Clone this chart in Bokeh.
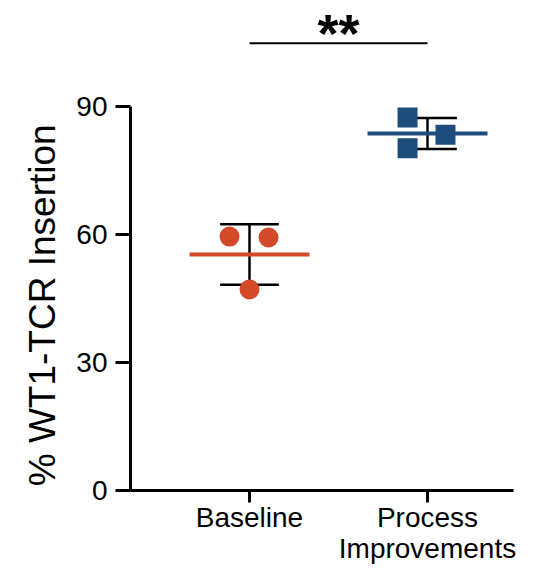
import math
import numpy as np
from bokeh.plotting import figure
from bokeh.models import FixedTicker, Range1d
from bokeh.core.properties import value
from bokeh.embed import file_html
from bokeh.resources import INLINE

# ---- data ----
groups = ["Baseline", "Process\nImprovements"]
baseline_vals = [59.5, 59.3, 47.1]
process_vals = [87.4, 80.2, 83.4]
y_ticks = [0, 30, 60, 90]
y_title = "% WT1-TCR Insertion"
signif_text = "**"

# ---- styling / layout ----
ORANGE = "#D34A2A"
BLUE = "#1E4D7B"
FONT = "Liberation Sans"
jitter_baseline = [-0.112, 0.107, 0.0]
jitter_process = [-0.112, -0.112, 0.101]
mean_half = 0.337
cap_half = 0.165
X_LEFT = 0.3315
X_RIGHT = 2.483

p = figure(width=525, height=565, output_backend="svg", toolbar_location=None,
           x_range=Range1d(-0.3989, 2.5506), y_range=Range1d(-17.58, 114.84),
           min_border=0)
p.outline_line_color = None
p.xgrid.visible = False
p.ygrid.visible = False
p.background_fill_color = "white"
p.border_fill_color = "white"

series = [(1, baseline_vals, jitter_baseline, ORANGE, "circle"),
          (2, process_vals, jitter_process, BLUE, "square")]

for xc, vals, jit, col, marker in series:
    arr = np.array(vals)
    m = arr.mean()
    sd = arr.std(ddof=1)
    p.segment(x0=[xc], y0=[m - sd], x1=[xc], y1=[m + sd], line_color="black", line_width=2.5)
    p.segment(x0=[xc - cap_half, xc - cap_half], y0=[m - sd, m + sd],
              x1=[xc + cap_half, xc + cap_half], y1=[m - sd, m + sd],
              line_color="black", line_width=2.5)
    p.scatter(x=[xc + j for j in jit], y=vals, marker=marker, size=20,
              fill_color=col, line_color=None)
    p.segment(x0=[xc - mean_half], y0=[m], x1=[xc + mean_half], y1=[m],
              line_color=col, line_width=4)

# significance bar
p.segment(x0=[1], y0=[104.8], x1=[2], y1=[104.8], line_color="black", line_width=2)
p.text(x=[1.5], y=[114.3], text=[signif_text], text_font=value(FONT),
       text_font_style="bold", text_font_size="54px", text_align="center",
       text_baseline="top", text_color="black")

# y-axis title
p.text(x=[-0.165], y=[43.4], text=[y_title], angle=math.pi / 2,
       text_font=value(FONT), text_font_size="37px", text_align="center",
       text_baseline="middle", text_color="black")

# axes
p.yaxis.ticker = FixedTicker(ticks=y_ticks)
p.yaxis.bounds = (0, 90)
p.yaxis.fixed_location = X_LEFT
p.xaxis.ticker = FixedTicker(ticks=[1, 2])
p.xaxis.bounds = (X_LEFT, X_RIGHT)
p.xaxis.fixed_location = 0
p.xaxis.major_label_overrides = {1: groups[0], 2: groups[1]}
for ax in (p.xaxis, p.yaxis):
    ax.axis_line_width = 3
    ax.axis_line_color = "black"
    ax.major_tick_line_width = 3
    ax.major_tick_line_color = "black"
    ax.major_tick_in = 0
    ax.minor_tick_line_color = None
    ax.major_label_text_font = FONT
    ax.major_label_text_font_size = "28px"
    ax.major_label_text_color = "black"
p.yaxis.major_tick_out = 15
p.xaxis.major_tick_out = 12
p.yaxis.major_label_standoff = 8
p.xaxis.major_label_standoff = 0
p.xaxis.major_label_text_line_height = 1.0

open("out.html", "w").write(file_html(p, INLINE))
